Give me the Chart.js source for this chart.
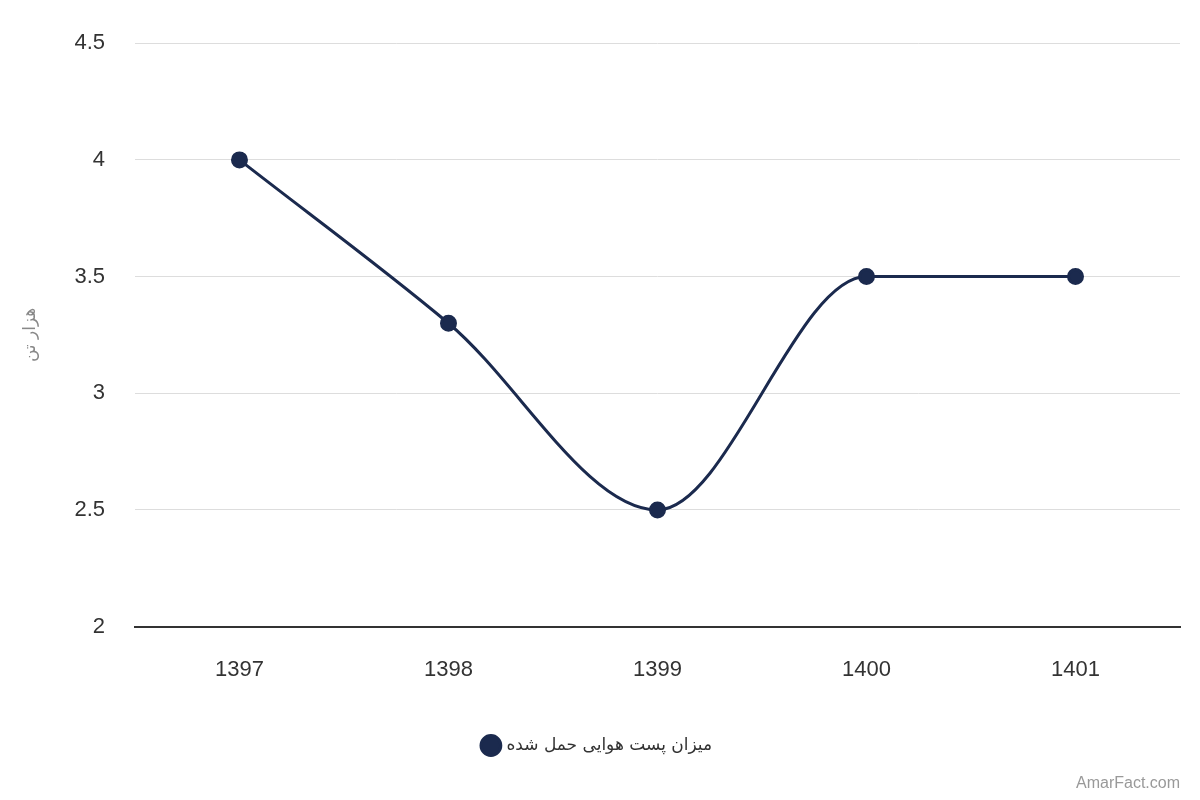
<!DOCTYPE html>
<html lang="fa">
<head>
<meta charset="UTF-8">
<script src="https://cdn.jsdelivr.net/npm/chart.js@4.4.0/dist/chart.umd.min.js"></script>
<style>
  body { margin: 0; background: #fff; }
  #wrap { position: relative; width: 1200px; height: 800px; }
  #mark { position: absolute; right: 20px; bottom: 8px; font: 16px "Liberation Sans", Arial, sans-serif; color: #999; }
</style>
</head>
<body>
<div id="wrap">
  <canvas id="graph" width="1200" height="800"></canvas>
  <div id="mark">AmarFact.com</div>
</div>
<script>
const years = ['1397', '1398', '1399', '1400', '1401'];
const values = [4, 3.3, 2.5, 3.5, 3.5];
const seriesName = 'میزان پست هوایی حمل شده';
const yTitle = 'هزار تن';

const navy = '#1b2a4e';
const ctx = document.getElementById('graph').getContext('2d');
new Chart(ctx, {
  type: 'line',
  data: {
    labels: years,
    datasets: [{
      label: seriesName,
      data: values,
      borderColor: navy,
      backgroundColor: navy,
      borderWidth: 3,
      pointRadius: 7,
      pointHoverRadius: 7,
      cubicInterpolationMode: 'monotone',
      fill: false
    }]
  },
  options: {
    responsive: false,
    animation: false,
    layout: { padding: { top: -14, right: 20, bottom: 36, left: 16 } },
    plugins: {
      legend: {
        position: 'bottom',
        labels: {
          usePointStyle: true,
          pointStyle: 'circle',
          boxWidth: 14,
          boxHeight: 14,
          color: '#333',
          font: { family: 'DejaVu Sans', size: 17 },
          padding: 24
        }
      },
      tooltip: { enabled: false }
    },
    scales: {
      x: {
        offset: true,
        grid: { display: false, drawTicks: false },
        border: { color: '#333', width: 2 },
        ticks: { color: '#333', font: { family: 'Liberation Sans', size: 22 }, padding: 30 }
      },
      y: {
        min: 2,
        max: 4.5,
        grid: { color: '#dddddd', drawTicks: false },
        border: { display: false },
        ticks: {
          stepSize: 0.5,
          color: '#333',
          font: { family: 'Liberation Sans', size: 22 },
          padding: 30,
          callback: v => String(v)
        },
        title: { display: true, text: yTitle, color: '#888', font: { family: 'DejaVu Sans', size: 17 } }
      }
    }
  }
});
</script>
</body>
</html>
